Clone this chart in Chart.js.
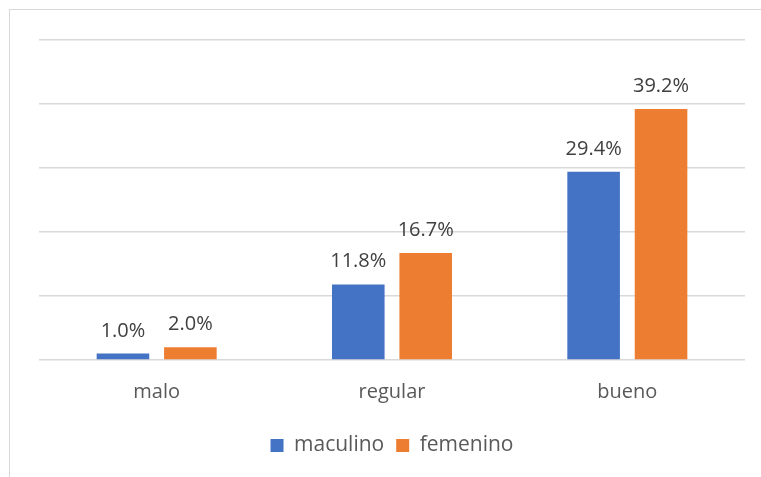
<!DOCTYPE html>
<html>
<head>
<meta charset="utf-8">
<script src="https://cdn.jsdelivr.net/npm/chart.js@4/dist/chart.umd.min.js"></script>
<style>
  html, body { margin: 0; padding: 0; background: #fff; overflow: hidden; }
  #wrap { position: relative; width: 761px; height: 477px; }
  #frame { position: absolute; left: 9px; top: 9px; width: 800px; height: 500px; border: 1px solid #d9d9d9; }
  canvas { position: absolute; left: 0; top: 0; }
</style>
</head>
<body>
<div id="wrap">
  <div id="frame"></div>
  <canvas id="myChart" width="761" height="477"></canvas>
</div>
<script>
const labels = ["malo", "regular", "bueno"];
const masculino = [1.0, 11.8, 29.4];
const femenino = [2.0, 16.7, 39.2];

// draws the value above each bar
const barValues = {
  id: "barValues",
  afterDatasetsDraw(chart) {
    const ctx = chart.ctx;
    ctx.save();
    ctx.font = "20px 'Open Sans'";
    ctx.fillStyle = "#404040";
    ctx.textAlign = "center";
    ctx.textBaseline = "alphabetic";
    chart.data.datasets.forEach((ds, i) => {
      chart.getDatasetMeta(i).data.forEach((bar, j) => {
        ctx.fillText(ds.data[j].toFixed(1) + "%", bar.x, bar.y - 17);
      });
    });
    ctx.restore();
  },
};

const data = {
  labels: labels,
  datasets: [
    {
      label: "maculino",
      backgroundColor: "#4472C4",
      data: masculino,
    },
    {
      label: "femenino",
      backgroundColor: "#ED7D31",
      data: femenino,
    },
  ],
};

const config = {
  type: "bar",
  data,
  plugins: [barValues],
  options: {
    responsive: false,
    animation: false,
    categoryPercentage: 0.573,
    barPercentage: 0.78,
    layout: { padding: { left: 39, right: 16, top: 40, bottom: 11 } },
    plugins: {
      tooltip: { enabled: false },
      legend: {
        position: "bottom",
        labels: {
          color: "#595959",
          font: { family: "'Open Sans'", size: 21 },
          boxWidth: 13,
          boxHeight: 13,
          padding: 12,
        },
      },
    },
    scales: {
      x: {
        grid: { display: false, drawTicks: false },
        border: { display: false },
        ticks: { color: "#595959", font: { family: "'Open Sans'", size: 20 }, padding: 20 },
        afterFit(scale) { scale.height = 63; },
      },
      y: {
        min: 0,
        max: 50,
        ticks: { display: false, stepSize: 10 },
        grid: { color: "#d9d9d9", lineWidth: 1.5, drawTicks: false },
        border: { display: false },
      },
    },
  },
};

const myChart = new Chart(document.getElementById("myChart"), config);
</script>
</body>
</html>
